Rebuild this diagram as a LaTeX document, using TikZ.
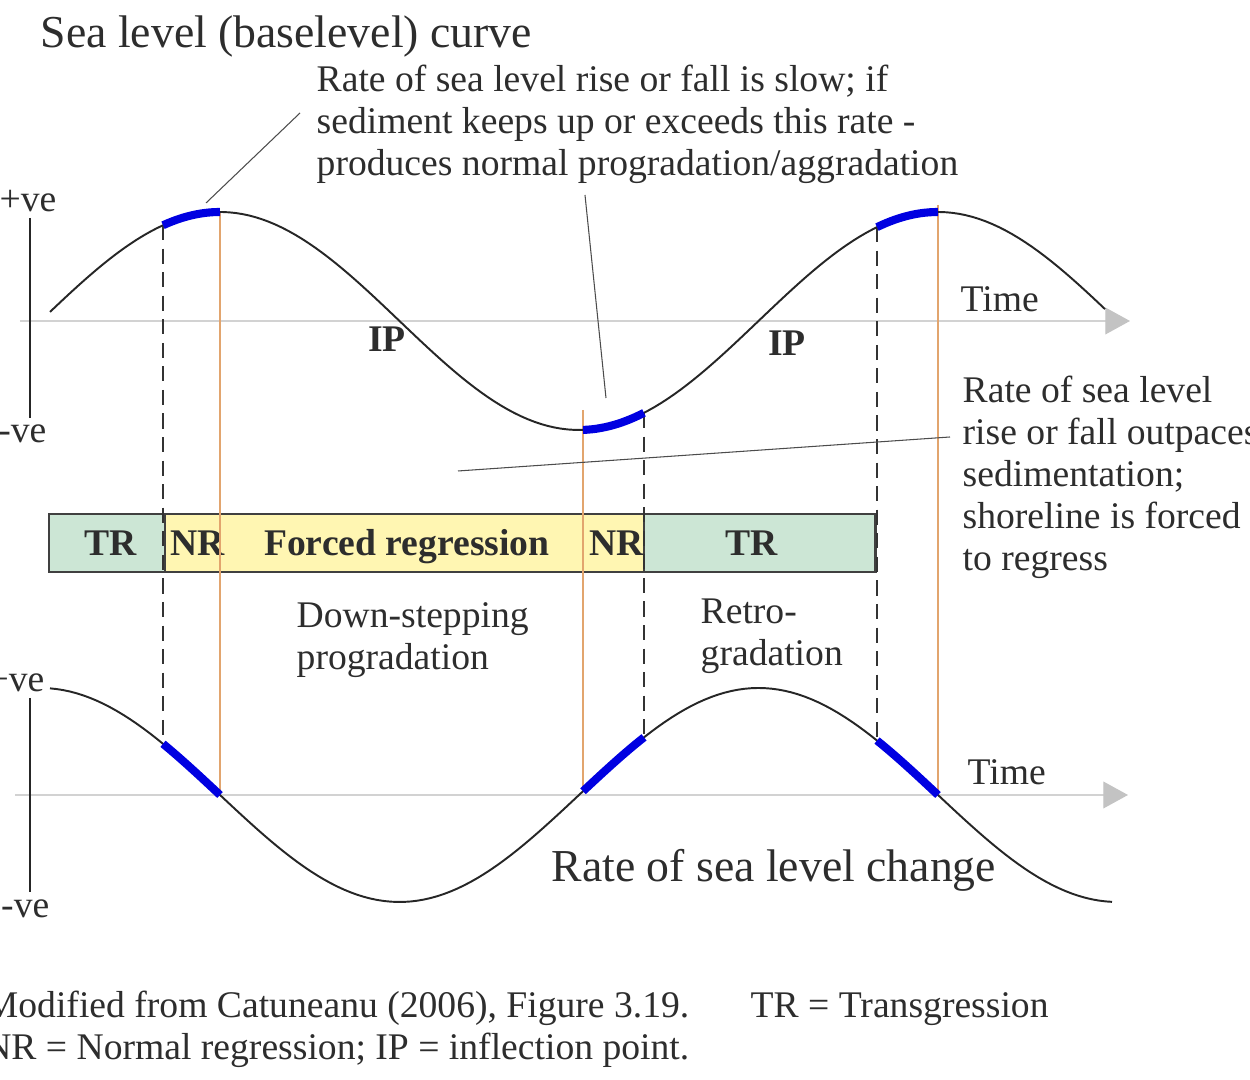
\documentclass[tikz,border=0pt]{standalone}
\usepackage{fontspec}
\setmainfont{Liberation Serif}
\usepackage{tikz}
\usetikzlibrary{shapes}
\usetikzlibrary{arrows.meta}

\definecolor{textgrey}{RGB}{45,45,45}
\definecolor{axisgrey}{RGB}{210,210,210}
\definecolor{arrowgrey}{RGB}{195,195,195}
\definecolor{boxgreen}{RGB}{204,230,213}
\definecolor{boxyellow}{RGB}{255,246,178}
\definecolor{agebrown}{RGB}{226,165,110}
\definecolor{arcblue}{RGB}{0,0,225}
\newcommand{\phasestrut}{\rule[-4.55pt]{0pt}{16.45pt}}

\begin{document}
\begin{tikzpicture}[x=0.01cm,y=-0.01cm]
				\tikzstyle{every node}=[inner sep=0pt,text=textgrey,font=\fontsize{10.7}{11.95}\selectfont]
				\tikzstyle{big}=[font=\fontsize{13}{15}\selectfont]
				\tikzstyle{bold}=[font=\fontsize{10.7}{11.95}\selectfont\bfseries]
				\tikzstyle{sealine}=[line width=0.55pt,black!85]
				\tikzstyle{bluepart}=[line width=2.3pt,arcblue]
				\tikzstyle{dashline}=[line width=0.6pt,black!80,dash pattern=on 4.3pt off 2.4pt]
				\tikzstyle{ageline}=[line width=0.35pt,agebrown]
				\tikzstyle{timeaxis}=[line width=0.35pt,axisgrey,-{Triangle[length=7pt,width=7.6pt,color=arrowgrey]}]
				\tikzstyle{leader}=[line width=0.3pt,black!70]
				\tikzstyle{phasebox}=[rectangle split,rectangle split horizontal,rectangle split parts=3,rectangle split ignore empty parts,draw=black!75,line width=0.6pt,inner sep=0pt,rectangle split part fill={boxgreen,boxyellow,boxgreen}]
				\useasboundingbox (0,0) rectangle (1250,1080);

				% time axes
				\coordinate (topstart) at (20,321);
				\coordinate (topend) at (1130,321);
				\coordinate (lowstart) at (15,795);
				\coordinate (lowend) at (1128,795);
				\draw[timeaxis] (topstart) -- (topend);
				\draw[timeaxis] (lowstart) -- (lowend);

				% value axes
				\node[anchor=base east] (plusA) at (57,212) {+ve};
				\node[anchor=base east] (minusA) at (47,443) {-ve};
				\node[anchor=base east] (plusB) at (45,692) {+ve};
				\node[anchor=base east] (minusB) at (50,918) {-ve};
				\coordinate (axAtop) at (30,218);
				\coordinate (axAbot) at (30,418);
				\coordinate (axBtop) at (30,698);
				\coordinate (axBbot) at (30,892);
				\draw[line width=0.4pt,black!85] (axAtop) -- (axAbot);
				\draw[line width=0.4pt,black!85] (axBtop) -- (axBbot);

				% systems tracts bar
				\node[phasebox,bold,anchor=north west] (phases) at (48,513)
					{\makebox[32.7pt]{\phasestrut\hspace{2.4pt}TR}%
					\nodepart{two}\makebox[135.7pt]{\phasestrut\hspace{1.2pt}NR\hfill Forced regression\hfill NR}%
					\nodepart{three}\makebox[65.4pt]{\phasestrut TR\hspace{4.8pt}}};

				% turning points
				\coordinate (peakA) at (220,212);
				\coordinate (zeroA) at (220,790);
				\coordinate (lowpt) at (583,410);
				\coordinate (zeroB) at (583,790);
				\coordinate (peakB) at (938,205);
				\coordinate (zeroC) at (938,795);
				\draw[ageline] (peakA) -- (zeroA);
				\draw[ageline] (lowpt) -- (zeroB);
				\draw[ageline] (peakB) -- (zeroC);

				\coordinate (upA) at (163,225);
				\coordinate (dnA) at (163,744);
				\coordinate (upB) at (644,413);
				\coordinate (dnB) at (644,737);
				\coordinate (upC) at (877,227);
				\coordinate (dnC) at (877,740);
				\draw[dashline] (upA) -- (dnA);
				\draw[dashline] (upB) -- (dnB);
				\draw[dashline] (upC) -- (dnC);

				% curves
				\draw[sealine] plot[domain=50:1105,samples=160] (\x,{321-109*cos((\x-220)*0.501393)});
				\draw[sealine] plot[domain=50:1112,samples=160] (\x,{795+107*sin((\x-220)*0.501393)});
				\draw[bluepart] plot[domain=163:220,samples=15] (\x,{321-109*cos((\x-220)*0.501393)});
				\draw[bluepart] plot[domain=583:644,samples=15] (\x,{321-109*cos((\x-220)*0.501393)});
				\draw[bluepart] plot[domain=877:938,samples=15] (\x,{321-109*cos((\x-220)*0.501393)});
				\draw[bluepart] plot[domain=163:220,samples=15] (\x,{795+107*sin((\x-220)*0.501393)});
				\draw[bluepart] plot[domain=583:644,samples=15] (\x,{795+107*sin((\x-220)*0.501393)});
				\draw[bluepart] plot[domain=877:938,samples=15] (\x,{795+107*sin((\x-220)*0.501393)});

				% labels
				\node[big,anchor=base west] (title) at (40,48) {Sea level (baselevel) curve};
				\node[anchor=base west,align=left] (slownote) at (316,176) {Rate of sea level rise or fall is slow; if\\ sediment keeps up or exceeds this rate -\\ produces normal progradation/aggradation};
				\node[anchor=base west,align=left] (fastnote) at (962,571) {Rate of sea level\\ rise or fall outpaces\\ sedimentation;\\ shoreline is forced\\ to regress};
				\node[bold,anchor=base] (ipA) at (387,352) {IP};
				\node[bold,anchor=base] (ipB) at (787,356) {IP};
				\node[anchor=base west] (timeA) at (960,312) {Time};
				\node[anchor=base west] (timeB) at (967,785) {Time};
				\node[anchor=base west,align=left] (downstep) at (296,670) {Down-stepping\\ progradation};
				\node[anchor=base west,align=left] (retro) at (700,666) {Retro-\\ gradation};
				\node[big,anchor=base west] (ratetitle) at (551,882) {Rate of sea level change};
				\node[anchor=base east] (srcnote) at (690,1018) {Modified from Catuneanu (2006), Figure 3.19.};
				\node[anchor=base east] (abbrnote) at (690,1060) {NR = Normal regression; IP = inflection point.};
				\node[anchor=base west] (trnote) at (750,1018) {TR = Transgression};

				% leaders
				\coordinate (slowfoot) at (300,113);
				\coordinate (slowtip) at (206,203);
				\coordinate (lowfoot) at (585,195);
				\coordinate (lowtip) at (606,398);
				\coordinate (fastfoot) at (950,437);
				\coordinate (fasttip) at (458,471);
				\draw[leader] (slowfoot) -- (slowtip);
				\draw[leader] (lowfoot) -- (lowtip);
				\draw[leader] (fastfoot) -- (fasttip);
\end{tikzpicture}
\end{document}
